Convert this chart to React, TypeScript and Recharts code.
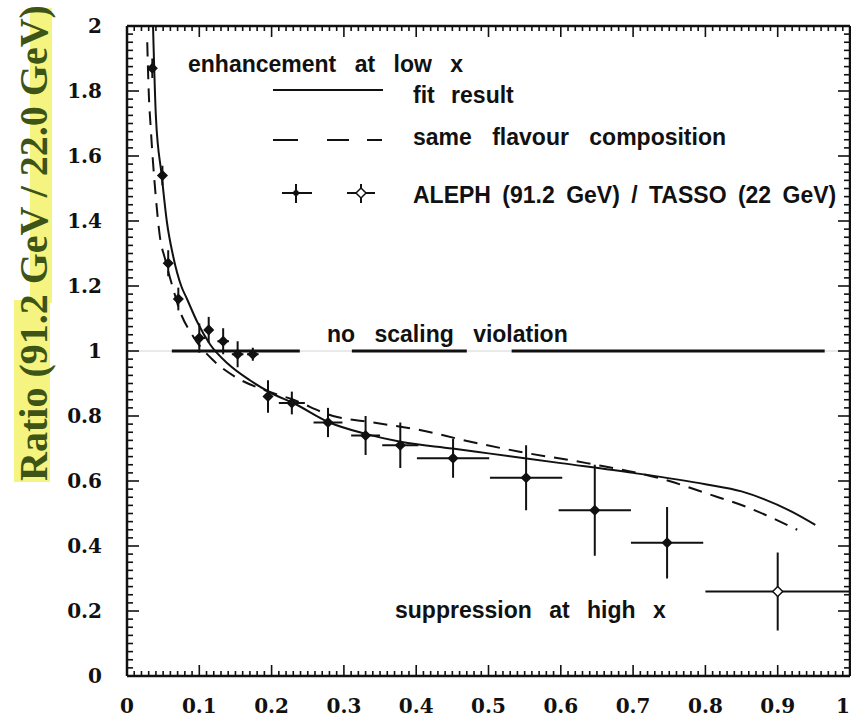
import React from 'react';
import { ComposedChart, Line, Scatter, XAxis, YAxis, ErrorBar, ReferenceLine } from 'recharts';

// ---- tick labels ----
const X_MAJOR = [0, 0.1, 0.2, 0.3, 0.4, 0.5, 0.6, 0.7, 0.8, 0.9, 1];
const X_LABELS = ['0', '0.1', '0.2', '0.3', '0.4', '0.5', '0.6', '0.7', '0.8', '0.9', '1'];
const Y_MAJOR = [0, 0.2, 0.4, 0.6, 0.8, 1, 1.2, 1.4, 1.6, 1.8, 2];
const Y_LABELS = ['0', '0.2', '0.4', '0.6', '0.8', '1', '1.2', '1.4', '1.6', '1.8', '2'];
const X_TICKS = Array.from({ length: 101 }, (_, i) => Math.round(i) / 100);
const Y_TICKS = Array.from({ length: 81 }, (_, i) => Math.round(i * 25) / 1000);

// ---- ALEPH (91.2 GeV) / TASSO (22 GeV) ratio ----
const dataX = [0.035, 0.049, 0.057, 0.071, 0.100, 0.113, 0.133, 0.153, 0.174, 0.195, 0.228, 0.278, 0.330, 0.378, 0.451, 0.552, 0.647, 0.747, 0.900];
const dataRatio = [1.87, 1.54, 1.27, 1.16, 1.04, 1.065, 1.03, 0.99, 0.99, 0.86, 0.84, 0.78, 0.74, 0.71, 0.67, 0.61, 0.51, 0.41, 0.26];
const dataXErr = [0.003, 0.003, 0.004, 0.005, 0.008, 0.006, 0.008, 0.008, 0.008, 0.005, 0.018, 0.02, 0.02, 0.025, 0.05, 0.05, 0.05, 0.05, 0.1];
const dataYErr = [0.03, 0.03, 0.04, 0.035, 0.045, 0.04, 0.04, 0.04, 0.02, 0.05, 0.035, 0.045, 0.06, 0.07, 0.06, 0.10, 0.14, 0.11, 0.12];
const dataOpen = [false, false, false, false, false, false, false, false, false, false, false, false, false, false, false, false, false, false, true];

// ---- fit result (solid) ----
const fitX = [0.036, 0.040, 0.048, 0.055, 0.064, 0.075, 0.083, 0.097, 0.115, 0.14, 0.17, 0.2, 0.23, 0.28, 0.33, 0.38, 0.45, 0.5, 0.6, 0.7, 0.8, 0.85, 0.88, 0.92, 0.952];
const fitY = [2.0, 1.72, 1.54, 1.40, 1.29, 1.20, 1.16, 1.09, 1.02, 0.96, 0.91, 0.87, 0.84, 0.78, 0.745, 0.72, 0.70, 0.685, 0.655, 0.625, 0.59, 0.568, 0.545, 0.505, 0.465];

// ---- same flavour composition (dashed) ----
const sameX = [0.028, 0.030, 0.033, 0.036, 0.040, 0.045, 0.053, 0.064, 0.072, 0.09, 0.12, 0.15, 0.19, 0.23, 0.285, 0.34, 0.405, 0.465, 0.543, 0.636, 0.75, 0.80, 0.857, 0.927];
const sameY = [1.95, 1.80, 1.68, 1.58, 1.47, 1.36, 1.28, 1.19, 1.13, 1.05, 0.97, 0.92, 0.88, 0.85, 0.80, 0.78, 0.757, 0.726, 0.69, 0.655, 0.60, 0.563, 0.52, 0.45];

// ---- no scaling violation (ratio = 1) ----
const noScaleX = [0.062, 0.239, 0.24, 0.311, 0.470, 0.471, 0.532, 0.965];
const noScaleY: (number | null)[] = [1, 1, null, 1, 1, null, 1, 1];

const points = dataX.map((x, i) => ({ x, y: dataRatio[i], ex: dataXErr[i], ey: dataYErr[i], open: dataOpen[i] }));
const fitData = fitX.map((x, i) => ({ x, y: fitY[i] }));
const sameData = sameX.map((x, i) => ({ x, y: sameY[i] }));
const noScaleData = noScaleX.map((x, i) => ({ x, y: noScaleY[i] }));

const INK = '#111';
const TICK_FONT = 'DejaVu Serif';

const findIdx = (arr: number[], v: number) => arr.findIndex((m) => Math.abs(m - v) < 1e-6);

const makeXTick = (dir: number, withLabel: boolean) => (props: any) => {
  const { x, y, payload } = props;
  const idx = findIdx(X_MAJOR, payload.value);
  const len = idx >= 0 ? 11 : 5;
  const last = idx === X_MAJOR.length - 1;
  return (
    <g>
      <line x1={x} x2={x} y1={y} y2={y - dir * len} stroke={INK} strokeWidth={1.6} />
      {withLabel && idx >= 0 && (
        <text x={last ? x : x} y={y + 37} textAnchor={last ? 'end' : 'middle'} fontFamily={TICK_FONT} fontWeight="bold" fontSize={20} fill={INK}>
          {X_LABELS[idx]}
        </text>
      )}
    </g>
  );
};

const makeYTick = (dir: number, withLabel: boolean) => (props: any) => {
  const { x, y, payload } = props;
  const idx = findIdx(Y_MAJOR, payload.value);
  const len = idx >= 0 ? 12 : 6;
  return (
    <g>
      <line x1={x} x2={x + dir * len} y1={y} y2={y} stroke={INK} strokeWidth={1.6} />
      {withLabel && idx >= 0 && (
        <text x={x - 25} y={y + 7} textAnchor="end" fontFamily={TICK_FONT} fontWeight="bold" fontSize={20} fill={INK}>
          {Y_LABELS[idx]}
        </text>
      )}
    </g>
  );
};

const Marker = (props: any) => {
  const { cx, cy, payload } = props;
  if (cx == null || cy == null) return <g />;
  const open = payload && payload.open;
  const r = open ? 5 : 4.5;
  const d = `M${cx},${cy - r} L${cx + r},${cy} L${cx},${cy + r} L${cx - r},${cy} Z`;
  return <path d={d} fill={open ? '#fff' : INK} stroke={INK} strokeWidth={1.5} />;
};

const ANNO_FONT = 'Liberation Sans';

export default function App() {
  const axisLine = { stroke: INK, strokeWidth: 2.5 };
  return (
    <div style={{ position: 'absolute', left: 0, top: 0, width: 851, height: 722, background: '#fff' }}>
      <ComposedChart width={851} height={722} margin={{ top: 0, right: 0, bottom: 0, left: 0 }}>
        <XAxis xAxisId="b" dataKey="x" type="number" domain={[0, 1]} allowDataOverflow ticks={X_TICKS} interval={0}
          height={46} tickSize={0} tickMargin={0} tickLine={false} axisLine={axisLine} tick={makeXTick(1, true)} />
        <XAxis xAxisId="t" dataKey="x" type="number" orientation="top" domain={[0, 1]} allowDataOverflow ticks={X_TICKS} interval={0}
          height={26} tickSize={0} tickMargin={0} tickLine={false} axisLine={axisLine} tick={makeXTick(-1, false)} />
        <YAxis yAxisId="l" type="number" domain={[0, 2]} allowDataOverflow ticks={Y_TICKS} interval={0}
          width={127} tickSize={0} tickMargin={0} tickLine={false} axisLine={axisLine} tick={makeYTick(1, true)} />
        <YAxis yAxisId="r" type="number" orientation="right" domain={[0, 2]} allowDataOverflow ticks={Y_TICKS} interval={0}
          width={1} tickSize={0} tickMargin={0} tickLine={false} axisLine={axisLine} tick={makeYTick(-1, false)} />

        <ReferenceLine xAxisId="b" yAxisId="l" y={1} stroke="#d4d4d4" strokeWidth={1} />
        <Line xAxisId="b" yAxisId="l" data={noScaleData} dataKey="y" stroke={INK} strokeWidth={3} dot={false}
          connectNulls={false} isAnimationActive={false} />
        <Line xAxisId="b" yAxisId="l" data={fitData} dataKey="y" type="monotone" stroke={INK} strokeWidth={2} dot={false}
          isAnimationActive={false} />
        <Line xAxisId="t" yAxisId="r" data={sameData} dataKey="y" type="monotone" stroke={INK} strokeWidth={2}
          strokeDasharray="14 9" dot={false} isAnimationActive={false} />
        <Scatter xAxisId="b" yAxisId="l" data={points} dataKey="y" shape={Marker} isAnimationActive={false}>
          <ErrorBar dataKey="ey" direction="y" width={0} stroke={INK} strokeWidth={2} isAnimationActive={false} />
          <ErrorBar dataKey="ex" direction="x" width={0} stroke={INK} strokeWidth={2} isAnimationActive={false} />
        </Scatter>
      </ComposedChart>

      <svg width={851} height={722} style={{ position: 'absolute', left: 0, top: 0, pointerEvents: 'none' }}>
        {/* y-axis title with highlighter */}
        <rect x={14} y={300} width={36} height={182} fill="#f3f26a" opacity={0.85} />
        <rect x={30} y={8} width={22} height={295} fill="#f3f26a" opacity={0.85} />
        <text transform="translate(47,243) rotate(-90)" textAnchor="middle" fontFamily="Liberation Serif" fontWeight="bold"
          fontSize={40} fill="#3e5416">
          Ratio (91.2 GeV / 22.0 GeV)
        </text>

        {/* annotations */}
        <g fontFamily={ANNO_FONT} fontWeight="bold" fontSize={23} fill={INK}>
          <text x={188} y={72} wordSpacing={12}>enhancement at low x</text>
          <text x={413} y={103} wordSpacing={10}>fit result</text>
          <text x={413} y={145} wordSpacing={14}>same flavour composition</text>
          <text x={413} y={203} wordSpacing={5}>ALEPH (91.2 GeV) / TASSO (22 GeV)</text>
          <text x={327} y={342} wordSpacing={13}>no scaling violation</text>
          <text x={395} y={618} wordSpacing={11}>suppression at high x</text>
        </g>

        {/* legend symbols */}
        <line x1={273} x2={383} y1={90} y2={90} stroke={INK} strokeWidth={2} />
        <line x1={273} x2={298} y1={140} y2={140} stroke={INK} strokeWidth={2} />
        <line x1={327} x2={349} y1={140} y2={140} stroke={INK} strokeWidth={2} />
        <line x1={367} x2={382} y1={140} y2={140} stroke={INK} strokeWidth={2} />
        <line x1={282} x2={312} y1={193} y2={193} stroke={INK} strokeWidth={2} />
        <line x1={296} x2={296} y1={184} y2={203} stroke={INK} strokeWidth={2} />
        <path d="M296,189 L300,193 L296,197 L292,193 Z" fill={INK} />
        <line x1={347} x2={375} y1={193} y2={193} stroke={INK} strokeWidth={2} />
        <line x1={361} x2={361} y1={184} y2={203} stroke={INK} strokeWidth={2} />
        <path d="M361,188 L366,193 L361,198 L356,193 Z" fill="#fff" stroke={INK} strokeWidth={1.5} />
      </svg>
    </div>
  );
}
